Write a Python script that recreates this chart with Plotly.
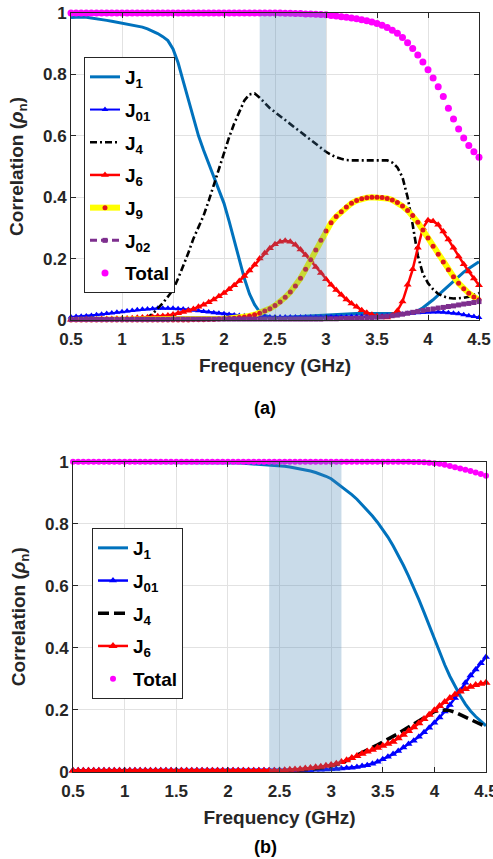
import numpy as np
import plotly.graph_objects as go

# Frequency grid (GHz), 0.05 GHz step
freq = np.round(np.arange(0.5, 4.5001, 0.05), 2)

x_ticks = [0.5, 1, 1.5, 2, 2.5, 3, 3.5, 4, 4.5]
x_ticklabels = ["0.5", "1", "1.5", "2", "2.5", "3", "3.5", "4", "4.5"]
y_ticks = [0, 0.2, 0.4, 0.6, 0.8, 1.0]
y_ticklabels = ["0", "0.2", "0.4", "0.6", "0.8", "1"]

# ---------------- panel (a) ----------------
j1_a = [.985, .987, .987, .986, .984, .982, .979, .976, .973, .970,
        .967, .964, .961, .958, .954, .948, .941, .933, .923, .910,
        .883, .838, .778, .716, .655, .600, .553, .508, .466, .425,
        .380, .322, .260, .195, .135, .085, .050, .026, .015, .010,
        .008, .008, .009, .010, .011, .012, .013, .014, .015, .016,
        .017, .018, .019, .020, .020, .021, .021, .021, .021, .021,
        .021, .021, .021, .021, .021, .022, .022, .025, .030, .040,
        .052, .066, .081, .096, .111, .127, .142, .156, .168, .179,
        .190]
j01_a = [.010, .011, .012, .013, .015, .017, .019, .021, .023, .025,
         .027, .029, .031, .033, .035, .036, .037, .038, .038, .038,
         .038, .037, .036, .034, .032, .030, .028, .026, .024, .022,
         .020, .018, .016, .015, .014, .013, .012, .011, .011, .010,
         .010, .010, .010, .010, .010, .010, .010, .010, .010, .010,
         .010, .010, .010, .010, .010, .011, .011, .011, .011, .012,
         .012, .013, .014, .015, .017, .019, .021, .022, .024, .025,
         .026, .026, .026, .025, .024, .022, .020, .017, .014, .011,
         .008]
j4_a = [.000, .000, .000, .000, .000, .000, .000, .000, .000, .000,
        .000, .000, .001, .002, .004, .009, .020, .036, .055, .076,
        .098, .135, .175, .218, .265, .300, .340, .388, .440, .495,
        .548, .595, .640, .680, .715, .735, .738, .724, .706, .690,
        .677, .664, .651, .638, .625, .612, .599, .586, .573, .560,
        .548, .538, .530, .525, .521, .520, .520, .520, .521, .521,
        .522, .522, .520, .513, .497, .465, .400, .310, .210, .150,
        .120, .100, .085, .077, .072, .070, .070, .072, .076, .081,
        .088]
j6_a = [.001, .001, .001, .002, .002, .002, .003, .003, .003, .004,
        .004, .005, .006, .007, .008, .009, .010, .012, .013, .015,
        .018, .022, .026, .030, .036, .043, .050, .058, .067, .077,
        .088, .100, .113, .127, .143, .161, .180, .200, .218, .234,
        .247, .255, .258, .255, .245, .230, .212, .193, .173, .153,
        .133, .115, .098, .082, .067, .054, .043, .032, .024, .017,
        .012, .009, .008, .015, .030, .060, .115, .165, .235, .300,
        .325, .322, .310, .288, .262, .235, .207, .182, .158, .135,
        .113]
j9_a = [.000, .000, .000, .000, .000, .000, .000, .000, .000, .000,
        .000, .000, .000, .000, .000, .000, .000, .000, .000, .000,
        .000, .000, .000, .000, .001, .001, .001, .002, .002, .003,
        .004, .005, .006, .008, .010, .013, .017, .022, .029, .037,
        .047, .059, .074, .091, .111, .136, .165, .196, .228, .260,
        .290, .317, .337, .353, .368, .380, .389, .395, .398, .400,
        .400, .399, .396, .391, .383, .371, .357, .340, .318, .293,
        .267, .240, .214, .189, .164, .141, .120, .102, .087, .075,
        .066]
j02_a = [.002, .002, .002, .002, .002, .002, .002, .002, .002, .002,
         .002, .002, .002, .002, .002, .002, .002, .002, .002, .002,
         .003, .003, .003, .003, .003, .003, .003, .003, .003, .003,
         .003, .003, .003, .003, .003, .003, .003, .003, .003, .003,
         .003, .003, .003, .003, .003, .003, .003, .003, .003, .003,
         .004, .004, .004, .005, .005, .005, .006, .006, .007, .008,
         .009, .010, .012, .014, .016, .019, .022, .025, .028, .031,
         .034, .036, .039, .041, .044, .046, .049, .052, .054, .057,
         .060]
total_a = [1.0] * 40 + [
    1.000, 1.000, .999, .999, .998, .998, .997, .997, .996, .995,
    .994, .992, .990, .988, .986, .984, .981, .978, .975, .971,
    .966, .960, .953, .944, .934, .920, .903, .884, .863, .840,
    .815, .788, .760, .728, .690, .655, .622, .593, .568, .548,
    .530]
band_a = [2.35, 3.0]

# ---------------- panel (b) ----------------
j1_b = [.998] * 25 + [
    .997, .997, .997, .997, .997,
    .997, .996, .996, .995, .994, .993, .992, .991, .990, .989,
    .987, .985, .983, .980, .977, .974, .970, .965, .960, .953,
    .945, .933, .921, .908, .894, .879, .862, .844, .825, .804,
    .782, .757, .729, .699, .666, .631, .594, .555, .514, .471,
    .428, .386, .345, .308, .275, .245, .218, .196, .178, .162,
    .148]
j01_b = [.005] * 47 + [
    .006, .006, .007,
    .008, .009, .010, .012, .013, .015, .018, .021, .026, .032,
    .040, .048, .057, .067, .078, .089, .100, .113, .127, .142,
    .158, .175, .194, .215, .238, .262, .287, .310, .330, .350,
    .370]
j4_b = [.000] * 40 + [
    .002, .003, .003, .004, .005, .006, .008, .009, .011, .014,
    .018, .022, .028, .036, .044, .053, .061, .070, .078, .087,
    .096, .104, .113, .123, .134, .144, .155, .166, .177, .186,
    .194, .198, .199, .197, .192, .184, .176, .168, .160, .152,
    .145]
j6_b = [.003] * 40 + [
    .004, .005, .006, .007, .008, .010, .012, .014, .016, .019,
    .022, .026, .031, .037, .044, .051, .058, .065, .071, .077,
    .084, .090, .097, .108, .119, .131, .143, .156, .170, .184,
    .198, .212, .225, .238, .249, .259, .267, .274, .280, .284,
    .287]
total_b = [1.0] * 66 + [
    .999, .999, .998, .997,
    .995, .993, .990, .986, .982, .978, .974, .970, .965, .960,
    .955]
band_b = [2.4, 3.1]

FONT = "Liberation Sans, Arial, sans-serif"
TXT = "#262626"
W, H = 493, 859

fig = go.Figure()


def add(name, y, xa, ya, leg, **kw):
    fig.add_trace(go.Scatter(x=freq, y=y, name=name, xaxis=xa, yaxis=ya,
                             legend=leg, legendgroup=f"{leg}-{name}",
                             cliponaxis=False, **kw))


# panel (a) series
add("J<sub>1</sub>", j1_a, "x", "y", "legend", mode="lines",
    line=dict(color="#0072BD", width=3))
add("J<sub>01</sub>", j01_a, "x", "y", "legend", mode="lines+markers",
    line=dict(color="#0000FF", width=2),
    marker=dict(symbol="triangle-up", size=6, color="#0000FF"))
add("J<sub>4</sub>", j4_a, "x", "y", "legend", mode="lines",
    line=dict(color="black", width=2.6, dash="7px,3px,2px,3px"))
add("J<sub>6</sub>", j6_a, "x", "y", "legend", mode="lines+markers",
    line=dict(color="#FF0000", width=2.5),
    marker=dict(symbol="triangle-up", size=7, color="#FF0000"))
add("J<sub>9</sub>", j9_a, "x", "y", "legend", mode="lines+markers",
    line=dict(color="#FFFF00", width=6),
    marker=dict(symbol="circle", size=5, color="#E0141E"))
add("J<sub>02</sub>", j02_a, "x", "y", "legend", mode="lines+markers",
    line=dict(color="#7E2F8E", width=3, dash="7px,4px"),
    marker=dict(symbol="square", size=5, color="#7E2F8E"))
add("Total", total_a, "x", "y", "legend", mode="markers",
    marker=dict(symbol="circle", size=7, color="#FF00FF"))

# panel (b) series
add("J<sub>1</sub>", j1_b, "x2", "y2", "legend2", mode="lines",
    line=dict(color="#0072BD", width=3))
add("J<sub>01</sub>", j01_b, "x2", "y2", "legend2", mode="lines+markers",
    line=dict(color="#0000FF", width=2.5),
    marker=dict(symbol="triangle-up", size=7, color="#0000FF"))
add("J<sub>4</sub>", j4_b, "x2", "y2", "legend2", mode="lines",
    line=dict(color="black", width=3.5, dash="11px,5px"))
add("J<sub>6</sub>", j6_b, "x2", "y2", "legend2", mode="lines+markers",
    line=dict(color="#FF0000", width=2.5),
    marker=dict(symbol="triangle-up", size=8, color="#FF0000"))
add("Total", total_b, "x2", "y2", "legend2", mode="markers",
    marker=dict(symbol="circle", size=6, color="#FF00FF"))

axis_common = dict(
    showline=True, linecolor=TXT, linewidth=1, mirror="ticks",
    ticks="inside", ticklen=5, tickcolor=TXT, tickwidth=1,
    showgrid=True, gridcolor="#e2e2e2", gridwidth=1, zeroline=False,
    automargin=False, ticklabeloverflow="allow",
    tickfont=dict(family=FONT, size=17, color=TXT, weight="bold"),
)
title_font = dict(family=FONT, size=19, color=TXT, weight="bold")
ytitle = "Correlation (<i>ρ</i><sub>n</sub>)"


def xaxis(dom, anchor):
    return dict(axis_common, domain=dom, anchor=anchor, range=[0.5, 4.5],
                tickvals=x_ticks, ticktext=x_ticklabels, ticklabelstandoff=4,
                title=dict(text="Frequency (GHz)", font=title_font, standoff=10))


def yaxis(dom, anchor):
    return dict(axis_common, domain=dom, anchor=anchor, range=[0, 1],
                tickvals=y_ticks, ticktext=y_ticklabels,
                title=dict(text=ytitle, font=title_font, standoff=14))


legend_common = dict(xanchor="left", yanchor="top", bgcolor="white",
                     bordercolor=TXT, borderwidth=1, tracegroupgap=5,
                     itemwidth=30,
                     font=dict(family=FONT, size=19, color="black", weight="bold"))

shapes = []
for band, xr, yr in [(band_a, "x", "y"), (band_b, "x2", "y2")]:
    shapes.append(dict(type="rect", xref=xr, yref=yr, x0=band[0], x1=band[1],
                       y0=-0.012, y1=1.0, fillcolor="rgba(70,130,180,0.29)",
                       line=dict(width=0), layer="above"))

panel_font = dict(family=FONT, size=18, color="black", weight="bold")

fig.update_layout(
    width=W, height=H,
    margin=dict(l=0, r=0, t=0, b=0, autoexpand=False),
    paper_bgcolor="white", plot_bgcolor="white",
    xaxis=xaxis([71 / W, 479 / W], "y"),
    yaxis=yaxis([1 - 320 / H, 1 - 13 / H], "x"),
    xaxis2=xaxis([73 / W, 486 / W], "y2"),
    yaxis2=yaxis([1 - 771.7 / H, 1 - 461.7 / H], "x2"),
    legend=dict(legend_common, x=84 / W, y=1 - 57 / H),
    legend2=dict(legend_common, x=92 / W, y=1 - 528 / H),
    shapes=shapes,
    annotations=[
        dict(text="(a)", x=265 / W, y=1 - 408 / H, xref="paper", yref="paper",
             xanchor="center", yanchor="middle", showarrow=False, font=panel_font),
        dict(text="(b)", x=265 / W, y=1 - 847 / H, xref="paper", yref="paper",
             xanchor="center", yanchor="middle", showarrow=False, font=panel_font),
    ],
)

fig.write_html("out.html")
